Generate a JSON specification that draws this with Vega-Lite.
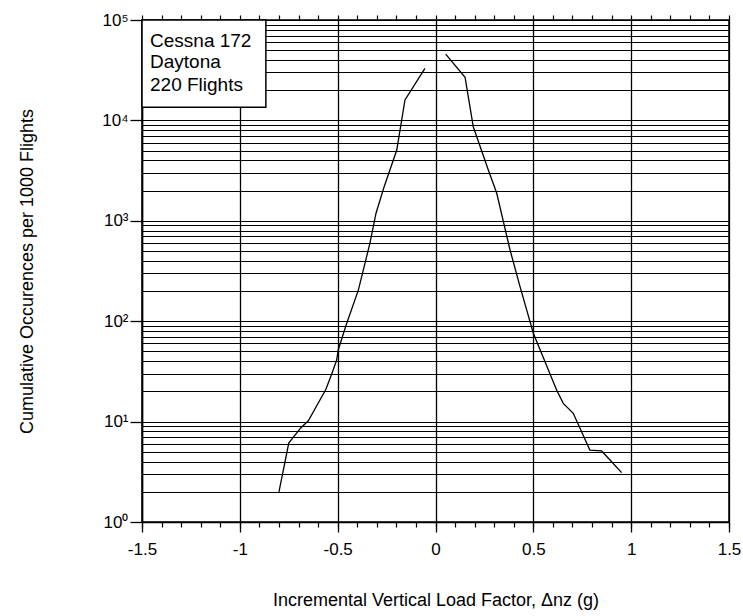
{
  "$schema": "https://vega.github.io/schema/vega-lite/v6.json",
  "width": 587,
  "height": 502,
  "autosize": "none",
  "padding": {"left": 142, "top": 20, "right": 14, "bottom": 94},
  "background": "white",
  "config": {
    "font": "Liberation Sans",
    "view": {"stroke": "black", "strokeWidth": 1.5}
  },
  "datasets": {
    "curve": [
      {"branch": "neg", "x": -0.8, "y": 2},
      {"branch": "neg", "x": -0.75, "y": 6.1},
      {"branch": "neg", "x": -0.69, "y": 8.6},
      {"branch": "neg", "x": -0.65, "y": 10.2},
      {"branch": "neg", "x": -0.56, "y": 21},
      {"branch": "neg", "x": -0.53, "y": 30},
      {"branch": "neg", "x": -0.505, "y": 41},
      {"branch": "neg", "x": -0.497, "y": 52},
      {"branch": "neg", "x": -0.454, "y": 95},
      {"branch": "neg", "x": -0.394, "y": 205},
      {"branch": "neg", "x": -0.335, "y": 600},
      {"branch": "neg", "x": -0.304, "y": 1190},
      {"branch": "neg", "x": -0.262, "y": 2200},
      {"branch": "neg", "x": -0.198, "y": 5070},
      {"branch": "neg", "x": -0.156, "y": 15960},
      {"branch": "neg", "x": -0.054, "y": 33000},
      {"branch": "pos", "x": 0.052, "y": 45800},
      {"branch": "pos", "x": 0.151, "y": 26900},
      {"branch": "pos", "x": 0.193, "y": 8650},
      {"branch": "pos", "x": 0.27, "y": 3210},
      {"branch": "pos", "x": 0.313, "y": 1880},
      {"branch": "pos", "x": 0.381, "y": 512},
      {"branch": "pos", "x": 0.432, "y": 221},
      {"branch": "pos", "x": 0.5, "y": 76},
      {"branch": "pos", "x": 0.619, "y": 20.6},
      {"branch": "pos", "x": 0.653, "y": 15.2},
      {"branch": "pos", "x": 0.704, "y": 12.1},
      {"branch": "pos", "x": 0.789, "y": 5.2},
      {"branch": "pos", "x": 0.849, "y": 5.1},
      {"branch": "pos", "x": 0.892, "y": 4.15},
      {"branch": "pos", "x": 0.951, "y": 3.1}
    ],
    "box": [
      {"x1": -1.5, "x2": -0.867, "y1": 13500, "y2": 100000}
    ],
    "notes": [
      {"x": -1.459, "y": 53800, "label": "Cessna 172"},
      {"x": -1.459, "y": 33000, "label": "Daytona"},
      {"x": -1.459, "y": 19600, "label": "220 Flights"}
    ]
  },
  "layer": [
    {
      "data": {"name": "curve"},
      "mark": {"type": "line", "color": "black", "strokeWidth": 1.3},
      "encoding": {
        "x": {
          "field": "x",
          "type": "quantitative",
          "scale": {"domain": [-1.5, 1.5], "nice": false, "zero": false},
          "axis": {
            "orient": "bottom",
            "values": [-1.5, -1, -0.5, 0, 0.5, 1, 1.5],
            "labelExpr": "'' + datum.value",
            "grid": true,
            "gridColor": "black",
            "gridWidth": 1.3,
            "gridOpacity": 1,
            "domainColor": "black",
            "domainWidth": 1.5,
            "tickColor": "black",
            "tickWidth": 1.3,
            "tickSize": 10,
            "labelFontSize": 17,
            "labelColor": "black",
            "labelPadding": 9,
            "labelFlush": false,
            "title": "Incremental Vertical Load Factor, Δnz (g)",
            "titleFontSize": 18,
            "titleFontWeight": "normal",
            "titleColor": "black",
            "titleBaseline": "alphabetic",
            "titleY": 83
          }
        },
        "y": {
          "field": "y",
          "type": "quantitative",
          "scale": {"type": "log", "domain": [1, 100000], "nice": false},
          "axis": {
            "orient": "left",
            "values": [1, 2, 3, 4, 5, 6, 7, 8, 9, 10, 20, 30, 40, 50, 60, 70, 80, 90, 100, 200, 300, 400, 500, 600, 700, 800, 900, 1000, 2000, 3000, 4000, 5000, 6000, 7000, 8000, 9000, 10000, 20000, 30000, 40000, 50000, 60000, 70000, 80000, 90000, 100000],
            "labelExpr": "datum.value == 1 ? '10⁰' : datum.value == 10 ? '10¹' : datum.value == 100 ? '10²' : datum.value == 1000 ? '10³' : datum.value == 10000 ? '10⁴' : datum.value == 100000 ? '10⁵' : ''",
            "grid": true,
            "gridColor": "black",
            "gridWidth": 1.2,
            "gridOpacity": 1,
            "domainColor": "black",
            "domainWidth": 1.5,
            "tickColor": "black",
            "tickWidth": 1.3,
            "tickSize": 12,
            "tickOpacity": {"condition": {"test": "indexof([1, 10, 100, 1000, 10000, 100000], datum.value) >= 0", "value": 1}, "value": 0},
            "labelFontSize": 17,
            "labelColor": "black",
            "labelPadding": 2,
            "labelFlush": false,
            "labelOverlap": false,
            "title": "Cumulative Occurences per 1000 Flights",
            "titleFontSize": 18,
            "titleFontWeight": "normal",
            "titleColor": "black",
            "titleAngle": -90,
            "titleAlign": "center",
            "titleBaseline": "middle",
            "titleX": -115,
            "titleY": 251
          }
        },
        "detail": {"field": "branch", "type": "nominal"}
      }
    },
    {
      "data": {"name": "box"},
      "mark": {"type": "rect", "fill": "white", "stroke": "black", "strokeWidth": 1.5},
      "encoding": {
        "x": {
          "field": "x1",
          "type": "quantitative",
          "axis": {
            "orient": "bottom",
            "values": [-1.5, -1.4, -1.3, -1.2, -1.1, -1, -0.9, -0.8, -0.7, -0.6, -0.5, -0.4, -0.3, -0.2, -0.1, 0, 0.1, 0.2, 0.3, 0.4, 0.5, 0.6, 0.7, 0.8, 0.9, 1, 1.1, 1.2, 1.3, 1.4, 1.5],
            "labels": false,
            "grid": false,
            "domain": false,
            "tickColor": "black",
            "tickWidth": 1.2,
            "tickSize": 5,
            "title": null
          }
        },
        "x2": {"field": "x2"},
        "y": {"field": "y1", "type": "quantitative", "axis": null},
        "y2": {"field": "y2"}
      }
    },
    {
      "data": {"name": "notes"},
      "mark": {"type": "text", "align": "left", "baseline": "alphabetic", "fontSize": 19, "color": "black"},
      "encoding": {
        "x": {
          "field": "x",
          "type": "quantitative",
          "axis": {
            "orient": "top",
            "values": [-1.5, -1.4, -1.3, -1.2, -1.1, -1, -0.9, -0.8, -0.7, -0.6, -0.5, -0.4, -0.3, -0.2, -0.1, 0, 0.1, 0.2, 0.3, 0.4, 0.5, 0.6, 0.7, 0.8, 0.9, 1, 1.1, 1.2, 1.3, 1.4, 1.5],
            "labels": false,
            "grid": false,
            "domain": false,
            "tickColor": "black",
            "tickWidth": 1.2,
            "tickSize": 5,
            "title": null
          }
        },
        "y": {"field": "y", "type": "quantitative", "axis": null},
        "text": {"field": "label"}
      }
    }
  ],
  "resolve": {"axis": {"x": "independent", "y": "independent"}}
}
